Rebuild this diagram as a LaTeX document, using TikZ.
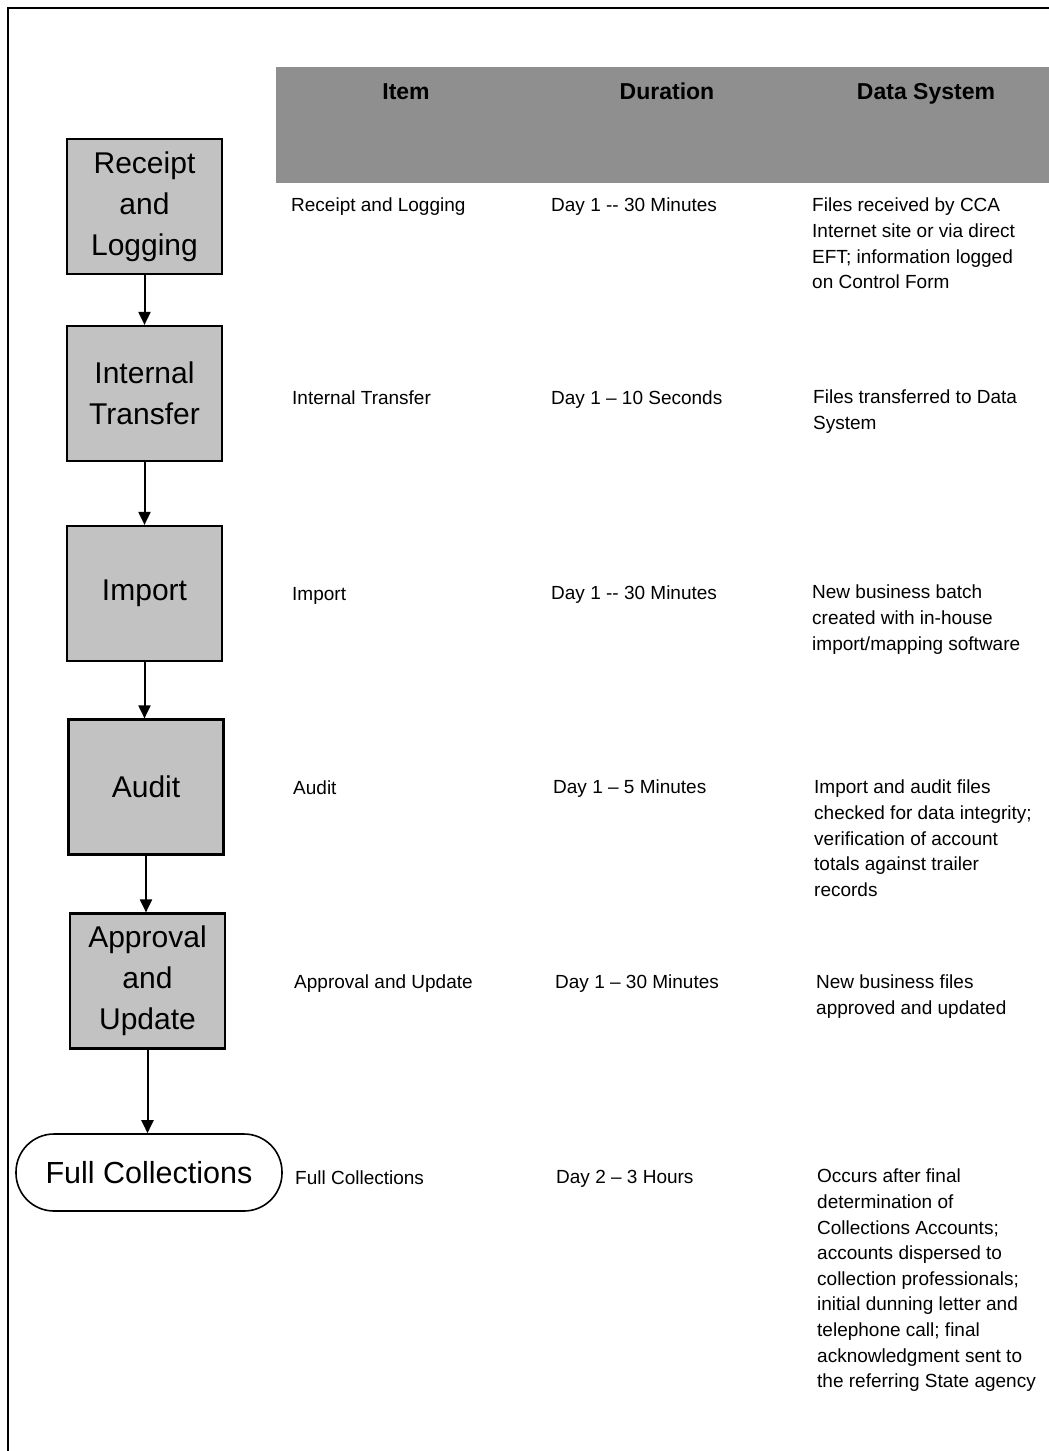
\documentclass[tikz,border=0pt]{standalone}
\usepackage{fontspec}
\setmainfont{Liberation Sans}
\usetikzlibrary{arrows.meta}
\begin{document}
\begin{tikzpicture}[x=1pt,y=-1pt,
  stepbox/.style={draw, line width=2.2pt, fill=black!24, minimum width=155pt, minimum height=135pt, inner sep=0pt, align=center, font=\fontsize{30}{41}\selectfont},
  endbox/.style={draw, line width=1.6pt, fill=white, rounded corners=38pt, minimum width=266pt, minimum height=77pt, inner sep=0pt, font=\fontsize{30.5}{36}\selectfont},
  headbox/.style={fill=black!44, draw=none, minimum width=773pt, minimum height=116pt, inner sep=0pt},
  headtext/.style={font=\fontsize{23}{26}\selectfont\bfseries, inner sep=0pt, anchor=base},
  cell/.style={anchor=north west, inner sep=0pt, align=left, font=\fontsize{19}{25.6}\selectfont},
  flow/.style={line width=2pt, -{Triangle[width=12pt,length=13pt]}}
]
\useasboundingbox (0,0) rectangle (1049,1451);
% frame lines
\coordinate (tl) at (8,8);
\coordinate (tr) at (1049,8);
\coordinate (bl) at (8,1451);
\draw[line width=1.5pt] (bl) -- (tl) -- (tr);

% header band
\node[headbox] (head) at (662.5,125) {};
\node[headtext] (hItem) at (406,99) {Item};
\node[headtext] (hDur) at (667,99) {Duration};
\node[headtext] (hData) at (926,99) {Data System};

% flow boxes
\node[stepbox] (b1) at (144.5,206.5) {Receipt\\and\\Logging};
\node[stepbox] (b2) at (144.5,393.5) {Internal\\Transfer};
\node[stepbox] (b3) at (144.5,593.5) {Import};
\node[stepbox] (b4) at (146,787) {Audit};
\node[stepbox] (b5) at (147.5,981) {Approval\\and\\Update};
\node[endbox] (b6) at (149,1172.5) {Full Collections};

\draw[flow] (b1.south) -- (b1.south |- b2.north);
\draw[flow] (b2.south) -- (b2.south |- b3.north);
\draw[flow] (b3.south) -- (b3.south |- b4.north);
\draw[flow] (b4.south) -- (b4.south |- b5.north);
\draw[flow] (b5.south) -- (b5.south |- b6.north);

% row 1
\node[cell] (i1) at (291,198) {Receipt and Logging};
\node[cell] (d1) at (551,198) {Day 1 -{}- 30 Minutes};
\node[cell] (s1) at (812,198) {Files received by CCA\\Internet site or via direct\\EFT; information logged\\on Control Form};
% row 2
\node[cell] (i2) at (292,391) {Internal Transfer};
\node[cell] (d2) at (551,391) {Day 1 – 10 Seconds};
\node[cell] (s2) at (813,390) {Files transferred to Data\\System};
% row 3
\node[cell] (i3) at (292,587) {Import};
\node[cell] (d3) at (551,586) {Day 1 -{}- 30 Minutes};
\node[cell] (s3) at (812,585) {New business batch\\created with in-house\\import/mapping software};
% row 4
\node[cell] (i4) at (293,781) {Audit};
\node[cell] (d4) at (553,780) {Day 1 – 5 Minutes};
\node[cell] (s4) at (814,780) {Import and audit files\\checked for data integrity;\\verification of account\\totals against trailer\\records};
% row 5
\node[cell] (i5) at (294,975) {Approval and Update};
\node[cell] (d5) at (555,975) {Day 1 – 30 Minutes};
\node[cell] (s5) at (816,975) {New business files\\approved and updated};
% row 6
\node[cell] (i6) at (295,1171) {Full Collections};
\node[cell] (d6) at (556,1170) {Day 2 – 3 Hours};
\node[cell] (s6) at (817,1169) {Occurs after final\\determination of\\Collections Accounts;\\accounts dispersed to\\collection professionals;\\initial dunning letter and\\telephone call; final\\acknowledgment sent to\\the referring State agency};
\end{tikzpicture}
\end{document}
